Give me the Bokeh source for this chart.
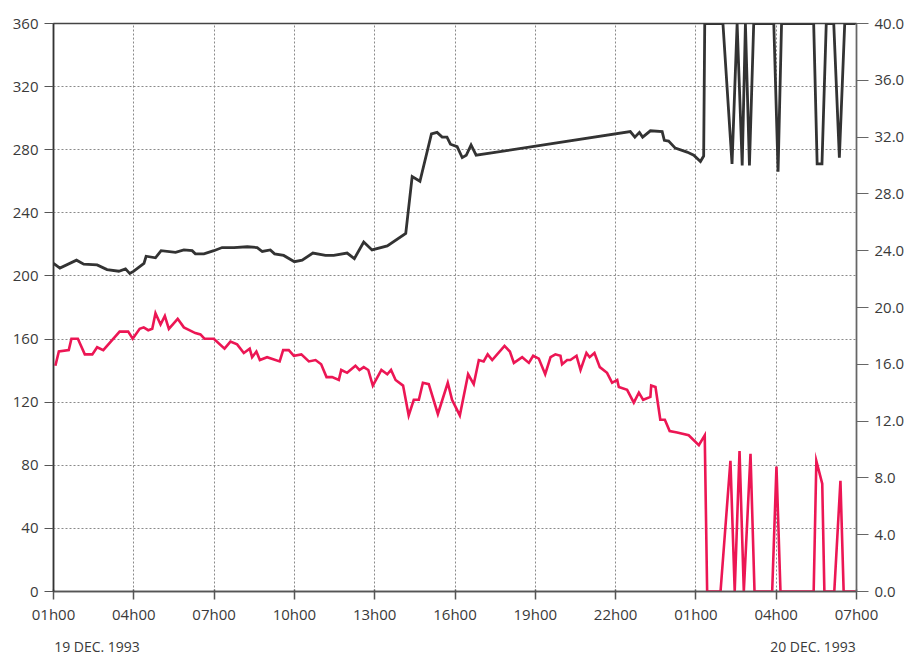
from bokeh.plotting import figure
from bokeh.models import Range1d, LinearAxis, FixedTicker
from bokeh.embed import file_html
from bokeh.resources import INLINE

# Hours after 01h00, 19 Dec 1993
x_ticks = [0, 3, 6, 9, 12, 15, 18, 21, 24, 27, 30]
x_tick_labels = ["01h00", "04h00", "07h00", "10h00", "13h00", "16h00",
                 "19h00", "22h00", "01h00", "04h00", "07h00"]
left_ticks = [0, 40, 80, 120, 160, 200, 240, 280, 320, 360]
right_ticks = [0, 4, 8, 12, 16, 20, 24, 28, 32, 36, 40]
right_tick_labels = ["0.0", "4.0", "8.0", "12.0", "16.0", "20.0",
                     "24.0", "28.0", "32.0", "36.0", "40.0"]
date_positions = [1.625, 28.375]
date_labels = ["19 DEC. 1993", "20 DEC. 1993"]

# Black series (left axis, 0-360)
dir_hours = [0.00, 0.24, 0.86, 1.13, 1.63, 2.00, 2.44, 2.69, 2.85, 3.00, 3.38, 3.46,
             3.81, 4.02, 4.56, 4.87, 5.18, 5.30, 5.62, 5.99, 6.30, 6.74, 7.24, 7.61,
             7.80, 8.10, 8.26, 8.60, 9.00, 9.29, 9.69, 10.16, 10.47, 10.97, 11.24,
             11.59, 11.90, 12.47, 13.16, 13.40, 13.69, 14.12, 14.33, 14.52, 14.70,
             14.83, 15.08, 15.27, 15.42, 15.60, 15.79, 21.55, 21.72, 21.89, 22.01,
             22.30, 22.74, 22.82, 22.98, 23.23, 23.67, 23.92, 24.17, 24.29, 24.33,
             25.01, 25.35, 25.54, 25.73, 25.85, 26.00, 26.16, 26.91, 27.07, 27.20,
             28.40, 28.53, 28.71, 28.87, 29.15, 29.36, 29.56, 29.96]
dir_values = [208, 205, 210, 207.5, 207, 204, 203, 204.5, 201.5, 203, 208, 212.5,
              211.5, 216, 215, 216.5, 216, 214, 214, 216, 218, 218, 218.5, 218,
              215.5, 216.5, 214, 213, 209, 210, 214.5, 213, 213, 214.5, 211,
              221.5, 216.5, 219, 227, 263, 260, 290, 291, 288, 288,
              283.5, 282, 275, 276.5, 283, 276.5, 291.5, 288, 291, 288,
              292, 291.5, 286, 285.5, 281, 278.5, 276.5, 272.5, 276, 360,
              360, 271, 360, 270, 360, 270, 360, 360, 266, 360,
              360, 271, 271, 360, 360, 275, 360, 360]

# Red series (right axis, 0-40)
spd_hours = [0.07, 0.20, 0.57, 0.67, 0.91, 1.17, 1.45, 1.63, 1.86, 2.47, 2.79, 2.96,
             3.22, 3.37, 3.54, 3.69, 3.81, 4.00, 4.16, 4.31, 4.64, 4.87, 5.30, 5.49,
             5.64, 5.99, 6.39, 6.61, 6.86, 7.11, 7.33, 7.42, 7.58, 7.71, 7.98, 8.45,
             8.58, 8.79, 8.98, 9.26, 9.54, 9.79, 10.00, 10.20, 10.41, 10.66, 10.75,
             10.97, 11.28, 11.43, 11.59, 11.76, 11.93, 12.25, 12.47, 12.61, 12.78,
             13.06, 13.27, 13.46, 13.65, 13.80, 14.02, 14.36, 14.73, 14.89, 15.18,
             15.49, 15.70, 15.89, 16.07, 16.22, 16.39, 16.85, 17.05, 17.20, 17.51,
             17.76, 17.92, 18.13, 18.37, 18.57, 18.75, 18.94, 19.00, 19.19, 19.31,
             19.54, 19.69, 19.91, 20.03, 20.21, 20.41, 20.68, 20.87, 21.06, 21.12,
             21.43, 21.68, 21.87, 22.03, 22.30, 22.33, 22.49, 22.67, 22.84, 23.02,
             23.30, 23.73, 24.11, 24.33, 24.42, 24.92, 25.29, 25.45, 25.63, 25.79,
             26.04, 26.19, 26.85, 27.01, 27.16, 28.40, 28.50, 28.72, 28.80, 29.17,
             29.40, 29.52, 29.96]
spd_values = [15.9, 16.9, 17.0, 17.8, 17.8, 16.7, 16.7, 17.2, 17.0, 18.3, 18.3, 17.8,
              18.5, 18.6, 18.4, 18.5, 19.6, 18.8, 19.4, 18.5, 19.2, 18.6, 18.2, 18.1,
              17.8, 17.8, 17.1, 17.6, 17.4, 16.8, 17.1, 16.5, 16.9, 16.3, 16.5, 16.2,
              17.0, 17.0, 16.6, 16.7, 16.2, 16.3, 16.0, 15.1, 15.1, 14.9, 15.6,
              15.4, 15.9, 15.6, 15.8, 15.6, 14.5, 15.6, 15.3, 15.6, 14.9,
              14.5, 12.4, 13.5, 13.5, 14.7, 14.6, 12.5, 14.7, 13.5, 12.4,
              15.3, 14.6, 16.3, 16.2, 16.7, 16.3, 17.3, 16.9, 16.1, 16.5,
              16.1, 16.6, 16.4, 15.3, 16.5, 16.7, 16.6, 16.0, 16.3, 16.3,
              16.6, 15.6, 16.8, 16.5, 16.8, 15.8, 15.4, 14.7, 14.9, 14.4,
              14.2, 13.3, 14.0, 13.5, 13.7, 14.5, 14.4, 12.1, 12.1, 11.3,
              11.2, 11.0, 10.3, 11.0, 0.0, 0.0, 9.2, 0.0, 9.9, 0.0,
              9.7, 0.0, 0.0, 8.8, 0.0, 0.0, 9.2, 7.6, 0.0, 0.0,
              7.8, 0.0, 0.0]

FONT = "Open Sans"
TXT = "#3a3a3a"

p = figure(width=913, height=659, output_backend="svg", toolbar_location=None,
           x_range=Range1d(0, 30), y_range=Range1d(0, 360),
           min_border_left=53, min_border_right=57, min_border_top=23,
           min_border_bottom=68)
p.extra_y_ranges = {"right": Range1d(0, 40)}
p.background_fill_color = "white"
p.border_fill_color = "white"
p.outline_line_color = "#444444"
p.outline_line_width = 1.5

# grids
for g in (p.xgrid, p.ygrid):
    g.grid_line_color = "#8a8a8a"
    g.grid_line_dash = "2 2"
    g.grid_line_width = 1

# x axis
xa = p.xaxis[0]
xa.ticker = FixedTicker(ticks=x_ticks)
xa.major_label_overrides = {t: l for t, l in zip(x_ticks, x_tick_labels)}
xa.minor_tick_line_color = None
xa.major_tick_out = 8
xa.major_tick_in = 2
xa.axis_line_color = "#555555"
xa.axis_line_width = 1.5
xa.major_tick_line_color = "#555555"
xa.major_tick_line_width = 1.5
xa.major_label_text_font = FONT
xa.major_label_text_font_size = "15px"
xa.major_label_text_color = TXT
xa.major_label_standoff = 4

# date row (second, unlined axis below)
da = LinearAxis(ticker=FixedTicker(ticks=date_positions))
da.major_label_overrides = {t: l for t, l in zip(date_positions, date_labels)}
da.axis_line_color = None
da.major_tick_line_color = None
da.minor_tick_line_color = None
da.major_tick_out = 0
da.major_tick_in = 0
da.major_label_standoff = 10
da.major_label_text_font = FONT
da.major_label_text_font_size = "14px"
da.major_label_text_color = TXT
p.add_layout(da, "below")

# left axis
ya = p.yaxis[0]
ya.ticker = FixedTicker(ticks=left_ticks)
ya.minor_tick_line_color = None
ya.major_tick_out = 9
ya.major_tick_in = 0
ya.axis_line_color = "#333333"
ya.axis_line_width = 1.5
ya.major_tick_line_color = "#555555"
ya.major_label_text_font = FONT
ya.major_label_text_font_size = "15px"
ya.major_label_text_color = TXT
ya.major_label_standoff = 6

# right axis
ra = LinearAxis(y_range_name="right", ticker=FixedTicker(ticks=right_ticks))
ra.major_label_overrides = {t: l for t, l in zip(right_ticks, right_tick_labels)}
ra.minor_tick_line_color = None
ra.major_tick_out = 12
ra.major_tick_in = 0
ra.axis_line_color = "#666666"
ra.axis_line_width = 1.2
ra.major_tick_line_color = "#666666"
ra.major_label_text_font = FONT
ra.major_label_text_font_size = "15px"
ra.major_label_text_color = TXT
ra.major_label_standoff = 6
p.add_layout(ra, "right")

# lines
p.line(spd_hours, spd_values, y_range_name="right", line_color="#ec1654",
       line_width=2.6, line_join="miter")
p.line(dir_hours, dir_values, line_color="#333333", line_width=2.8,
       line_join="miter")

open("out.html", "w").write(file_html(p, INLINE))
